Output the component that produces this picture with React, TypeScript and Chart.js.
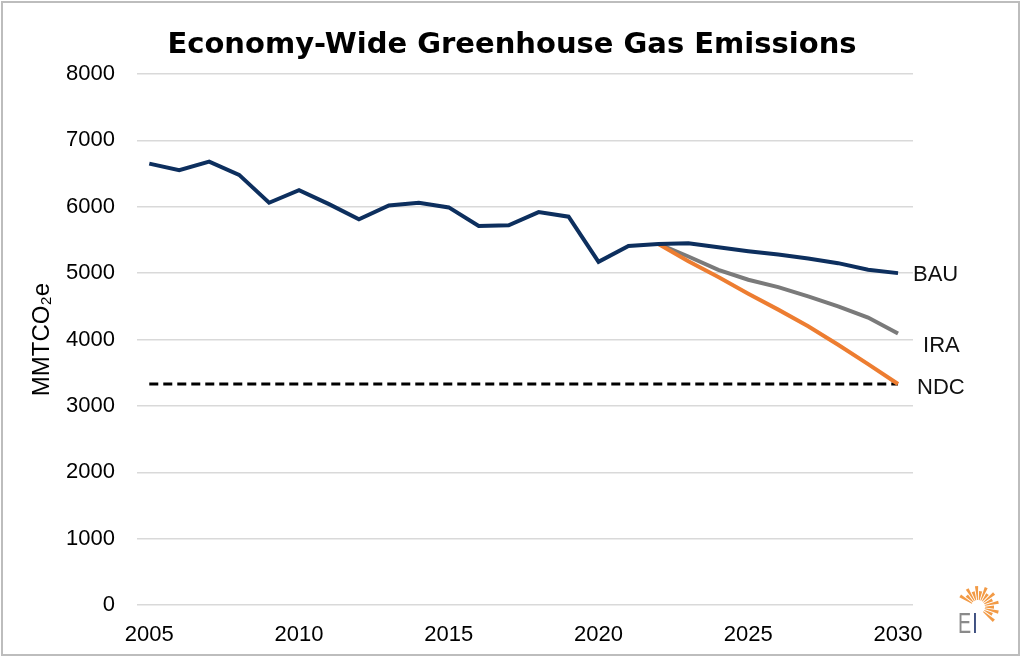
import React, { useEffect, useRef } from "react";
import { Chart, registerables } from "chart.js";

Chart.register(...registerables);

const years = [2005, 2006, 2007, 2008, 2009, 2010, 2011, 2012, 2013, 2014, 2015, 2016, 2017, 2018, 2019, 2020, 2021, 2022, 2023, 2024, 2025, 2026, 2027, 2028, 2029, 2030];
const bau = [6650, 6550, 6680, 6480, 6060, 6250, 6040, 5810, 6020, 6060, 5990, 5710, 5720, 5920, 5850, 5170, 5410, 5440, 5450, 5390, 5330, 5280, 5220, 5150, 5050, 5000];
const projYears = [2022, 2023, 2024, 2025, 2026, 2027, 2028, 2029, 2030];
const ira = [5440, 5250, 5050, 4900, 4790, 4650, 4500, 4330, 4090];
const ndcPath = [5440, 5180, 4940, 4690, 4450, 4200, 3920, 3630, 3330];
const ndcTarget = [3330, 3330];
const targetYears = [2005, 2030];
const xTickYears = [2005, 2010, 2015, 2020, 2025, 2030];
const seriesLabels = ["BAU", "IRA", "NDC"];

const FONT = "'Liberation Sans', Arial, sans-serif";

const toPts = (xs: number[], ys: number[]) => xs.map((x, i) => ({ x, y: ys[i] }));

const labelOffsets: Record<string, { dx: number; dy: number }> = {
  BAU: { dx: 15, dy: 2 },
  IRA: { dx: 25, dy: 12 },
  NDC: { dx: 19, dy: 4 },
};

const endLabelPlugin = {
  id: "endLabels",
  afterDatasetsDraw(chart: any) {
    const ctx = chart.ctx;
    ctx.save();
    ctx.font = `22px ${FONT}`;
    ctx.fillStyle = "#111";
    ctx.textAlign = "left";
    ctx.textBaseline = "middle";
    chart.data.datasets.forEach((ds: any, i: number) => {
      if (!ds.endLabel) return;
      const meta = chart.getDatasetMeta(i);
      const last = meta.data[meta.data.length - 1];
      const off = labelOffsets[ds.endLabel];
      ctx.fillText(ds.endLabel, last.x + off.dx, last.y + off.dy);
    });
    ctx.restore();
  },
};

const logoPlugin = {
  id: "logo",
  afterDraw(chart: any) {
    const ctx = chart.ctx;
    ctx.save();
    const cx = 978;
    const cy = 607;
    ctx.fillStyle = "#f29a45";
    for (let k = 0; k < 15; k++) {
      const a = ((-148 + k * 13.5) * Math.PI) / 180;
      const r0 = 7;
      const r1 = k % 2 === 0 ? 21 : 16;
      const px = -Math.sin(a);
      const py = Math.cos(a);
      const w0 = 0.4;
      const w1 = 1.6;
      ctx.beginPath();
      ctx.moveTo(cx + Math.cos(a) * r0 + px * w0, cy + Math.sin(a) * r0 + py * w0);
      ctx.lineTo(cx + Math.cos(a) * r1 + px * w1, cy + Math.sin(a) * r1 + py * w1);
      ctx.lineTo(cx + Math.cos(a) * r1 - px * w1, cy + Math.sin(a) * r1 - py * w1);
      ctx.lineTo(cx + Math.cos(a) * r0 - px * w0, cy + Math.sin(a) * r0 - py * w0);
      ctx.closePath();
      ctx.fill();
    }
    ctx.save();
    ctx.translate(958, 633);
    ctx.scale(0.68, 1);
    ctx.font = `29px ${FONT}`;
    ctx.textBaseline = "alphabetic";
    ctx.textAlign = "left";
    ctx.fillStyle = "#8a8a8a";
    ctx.fillText("E", 0, 0);
    ctx.fillStyle = "#34467a";
    ctx.fillText("I", 21, 0);
    ctx.restore();
    ctx.restore();
  },
};

export default function App() {
  const ref = useRef<HTMLCanvasElement>(null);

  useEffect(() => {
    if (!ref.current) return;
    const chart = new Chart(ref.current, {
      type: "line",
      data: {
        datasets: [
          {
            label: seriesLabels[0],
            endLabel: "BAU",
            data: toPts(years, bau),
            borderColor: "#0d2f5e",
            borderWidth: 4,
            pointRadius: 0,
            tension: 0,
            order: 0,
          } as any,
          {
            label: seriesLabels[2],
            data: toPts(projYears, ndcPath),
            borderColor: "#ed7d31",
            borderWidth: 4,
            pointRadius: 0,
            tension: 0,
            order: 1,
          },
          {
            label: seriesLabels[1],
            endLabel: "IRA",
            data: toPts(projYears, ira),
            borderColor: "#7a7a7a",
            borderWidth: 4,
            pointRadius: 0,
            tension: 0,
            order: 2,
          } as any,
          {
            label: "NDC target",
            endLabel: "NDC",
            data: toPts(targetYears, ndcTarget),
            borderColor: "#000000",
            borderWidth: 3,
            borderDash: [9, 5],
            pointRadius: 0,
            tension: 0,
            order: 3,
          } as any,
        ],
      },
      options: {
        animation: false,
        responsive: false,
        layout: { padding: { left: 0, right: 0, top: 0, bottom: 0 } },
        plugins: {
          legend: { display: false },
          tooltip: { enabled: false },
          title: {
            display: true,
            text: "Economy-Wide Greenhouse Gas Emissions",
            color: "#000",
            font: { family: "'DejaVu Sans', sans-serif", size: 29, weight: "bold", lineHeight: 1.2 },
            padding: { top: 28, bottom: 11.2 },
          },
        },
        scales: {
          x: {
            type: "linear",
            min: 2004.59,
            max: 2030.5,
            grid: { display: false, drawTicks: false },
            border: { display: false },
            afterBuildTicks: (scale: any) => {
              scale.ticks = xTickYears.map((v) => ({ value: v }));
            },
            afterFit: (scale: any) => {
              scale.height = 54;
            },
            ticks: {
              padding: 17,
              color: "#000",
              font: { family: FONT, size: 22 },
              maxRotation: 0,
              autoSkip: false,
              callback: (v: any) => String(v),
            },
          },
          y: {
            min: 0,
            max: 8000,
            grid: { color: "#d9d9d9", lineWidth: 1.5, drawTicks: false },
            border: { display: false },
            afterFit: (scale: any) => {
              scale.width = 137;
            },
            ticks: {
              stepSize: 1000,
              padding: 22,
              color: "#000",
              font: { family: FONT, size: 22 },
              callback: (v: any) => String(v),
            },
            title: {
              display: true,
              text: "MMTCO₂e",
              color: "#000",
              font: { family: FONT, size: 24, lineHeight: 1.2 },
              padding: { top: 28, bottom: 0 },
            },
          },
          yRight: {
            position: "right",
            display: true,
            min: 0,
            max: 8000,
            grid: { display: false, drawTicks: false },
            border: { display: false },
            ticks: { display: false },
            afterFit: (scale: any) => {
              scale.width = 111;
            },
          },
        },
      },
      plugins: [endLabelPlugin, logoPlugin],
    } as any);
    return () => chart.destroy();
  }, []);

  return (
    <div style={{ position: "absolute", left: 0, top: 0, width: 1024, height: 659, background: "#fff" }}>
      <canvas ref={ref} width={1024} height={659} style={{ display: "block" }} />
      <div
        style={{
          position: "absolute",
          left: 1,
          top: 1,
          width: 1019,
          height: 655,
          border: "2px solid #bdbdbd",
          boxSizing: "border-box",
          pointerEvents: "none",
        }}
      />
    </div>
  );
}
